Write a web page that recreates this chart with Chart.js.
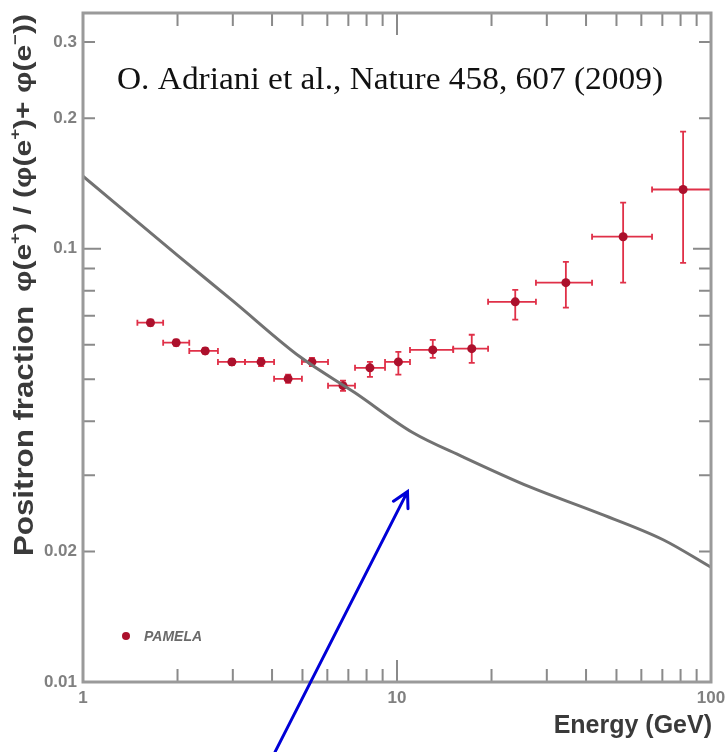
<!DOCTYPE html>
<html>
<head>
<meta charset="utf-8">
<script src="https://cdn.jsdelivr.net/npm/chart.js@4.4.0/dist/chart.umd.min.js"></script>
<style>
  html, body { margin: 0; padding: 0; background: #fff; }
</style>
</head>
<body>
<canvas id="positronChart" width="726" height="752"></canvas>
<script>
// ----- PAMELA positron fraction data -----
const energy   = [1.64, 1.98, 2.45, 2.98, 3.69, 4.50, 5.36, 6.73, 8.20, 10.1, 13.0, 17.3, 23.8, 34.5, 52.5, 81.5];
const fraction = [0.0675, 0.0607, 0.0581, 0.0548, 0.0548, 0.0501, 0.0548, 0.0483, 0.0531, 0.0548, 0.0584, 0.0588, 0.0754, 0.0835, 0.1066, 0.137];
// energy bins (horizontal error bars)
const binLow   = [1.49, 1.80, 2.18, 2.69, 3.28, 4.06, 4.98, 6.03, 7.35, 9.16, 11.0, 15.1, 19.5, 27.7, 41.8, 64.9];
const binHigh  = [1.80, 2.18, 2.69, 3.28, 4.06, 4.98, 6.03, 7.35, 9.16, 11.0, 15.1, 19.5, 27.7, 41.8, 64.9, 100];
// statistical errors (vertical error bars)
const fracLow  = [0.0664, 0.0597, 0.0572, 0.0539, 0.0536, 0.0490, 0.0536, 0.0470, 0.0506, 0.0512, 0.0560, 0.0545, 0.0686, 0.0731, 0.0835, 0.0928];
const fracHigh = [0.0686, 0.0617, 0.0590, 0.0557, 0.0560, 0.0512, 0.0560, 0.0496, 0.0548, 0.0578, 0.0616, 0.0633, 0.0804, 0.0933, 0.1277, 0.1863];

// secondary production curve
const modelEnergy   = [1, 2, 3, 4.91, 7.35, 11.25, 16.2, 26.5, 43.4, 70.4, 100];
const modelFraction = [0.147, 0.0965, 0.0758, 0.0563, 0.0465, 0.0376, 0.0331, 0.0282, 0.0246, 0.0213, 0.0184];

// axis labels
const xTickValues = [1, 10, 100];
const xTickLabels = ['1', '10', '100'];
const yTickValues = [0.01, 0.02, 0.1, 0.2, 0.3];
const yTickLabels = ['0.01', '0.02', '0.1', '0.2', '0.3'];

const citation = 'O. Adriani et al., Nature 458, 607 (2009)';
const legendLabel = 'PAMELA';

// arrow annotation (data coordinates)
const arrowFrom = { x: 4.09, y: 0.0069 };
const arrowTo   = { x: 10.8, y: 0.0275 };

const RED_BAR = 'rgb(224, 48, 72)';
const RED_DOT = 'rgb(172, 16, 44)';
const AXIS_GRAY = '#9a9a9a';
const SANS = '"Liberation Sans", Arial, sans-serif';

// 誤差棒の描画
const errorBarPlugin = {
    id: 'errorBars',
    beforeDatasetsDraw(chart) {
        const ctx = chart.ctx;
        const xs = chart.scales.x;
        const ys = chart.scales.y;
        const cap = 3;
        ctx.save();
        ctx.strokeStyle = RED_BAR;
        ctx.lineWidth = 1.8;
        energy.forEach((e, i) => {
            const px = xs.getPixelForValue(e);
            const py = ys.getPixelForValue(fraction[i]);
            const x0 = xs.getPixelForValue(binLow[i]);
            const x1 = xs.getPixelForValue(binHigh[i]);
            const y0 = ys.getPixelForValue(fracLow[i]);
            const y1 = ys.getPixelForValue(fracHigh[i]);
            ctx.beginPath();
            ctx.moveTo(x0, py); ctx.lineTo(x1, py);
            ctx.moveTo(x0, py - cap); ctx.lineTo(x0, py + cap);
            ctx.moveTo(x1, py - cap); ctx.lineTo(x1, py + cap);
            ctx.moveTo(px, y0); ctx.lineTo(px, y1);
            ctx.moveTo(px - cap, y0); ctx.lineTo(px + cap, y0);
            ctx.moveTo(px - cap, y1); ctx.lineTo(px + cap, y1);
            ctx.stroke();
        });
        ctx.restore();
    }
};

// 回転させたテキストを指定の長さに合わせて描く
function drawRotatedRuns(ctx, x, y, runs, size, supSize, length) {
    ctx.save();
    ctx.translate(x, y);
    ctx.rotate(-Math.PI / 2);
    let total = 0;
    runs.forEach(([t, sup]) => {
        ctx.font = 'bold ' + (sup ? supSize : size) + 'px ' + SANS;
        total += ctx.measureText(t).width;
    });
    ctx.scale(length / total, 1);
    ctx.textAlign = 'left';
    ctx.textBaseline = 'alphabetic';
    let cx = 0;
    runs.forEach(([t, sup]) => {
        ctx.font = 'bold ' + (sup ? supSize : size) + 'px ' + SANS;
        ctx.fillText(t, cx, sup ? -size * 0.45 : 0);
        cx += ctx.measureText(t).width;
    });
    ctx.restore();
}

// 枠・目盛り・ラベル・注釈の描画
const framePlugin = {
    id: 'frame',
    afterDraw(chart) {
        const ctx = chart.ctx;
        const xs = chart.scales.x;
        const ys = chart.scales.y;
        const area = chart.chartArea;

        ctx.save();

        // 内向きの目盛り
        ctx.strokeStyle = '#8a8a8a';
        ctx.lineWidth = 2;
        const xMinor = [];
        const yMinor = [];
        [1, 10].forEach(d => { for (let k = 2; k <= 9; k++) xMinor.push(k * d); });
        [0.01, 0.1].forEach(d => { for (let k = 2; k <= 9; k++) yMinor.push(k * d); });

        ctx.beginPath();
        xTickValues.concat(xMinor).forEach(v => {
            const len = xTickValues.includes(v) ? 22 : 13;
            const px = xs.getPixelForValue(v);
            ctx.moveTo(px, area.bottom); ctx.lineTo(px, area.bottom - len);
            ctx.moveTo(px, area.top); ctx.lineTo(px, area.top + len);
        });
        yMinor.concat([0.01, 0.1]).forEach(v => {
            if (v > ys.max) return;
            const len = (v === 0.01 || v === 0.1) ? 18 : 12;
            const py = ys.getPixelForValue(v);
            ctx.moveTo(area.left, py); ctx.lineTo(area.left + len, py);
            ctx.moveTo(area.right, py); ctx.lineTo(area.right - len, py);
        });
        ctx.stroke();

        // 枠線
        ctx.strokeStyle = AXIS_GRAY;
        ctx.lineWidth = 3;
        ctx.strokeRect(area.left, area.top, area.right - area.left, area.bottom - area.top);

        // 目盛りラベル
        ctx.fillStyle = '#808080';
        ctx.font = 'bold 17px ' + SANS;
        ctx.textBaseline = 'middle';
        ctx.textAlign = 'right';
        yTickValues.forEach((v, i) => {
            ctx.fillText(yTickLabels[i], area.left - 6, ys.getPixelForValue(v));
        });
        ctx.textAlign = 'center';
        ctx.textBaseline = 'top';
        xTickValues.forEach((v, i) => {
            ctx.fillText(xTickLabels[i], xs.getPixelForValue(v), area.bottom + 8);
        });

        // 軸タイトル
        ctx.fillStyle = '#3a3a3a';
        ctx.font = 'bold 25px ' + SANS;
        ctx.textAlign = 'right';
        ctx.textBaseline = 'alphabetic';
        ctx.fillText('Energy (GeV)', 712, 733);

        drawRotatedRuns(ctx, 33, 556, [['Positron fraction', false]], 28, 16, 250);
        // φ(e+) / (φ(e+)+ φ(e-))
        drawRotatedRuns(ctx, 31, 292, [
            ['φ(e', false], ['+', true], [') / (φ(e', false], ['+', true],
            [')+ φ(e', false], ['−', true], ['))', false]
        ], 24, 15, 278);

        // 凡例
        ctx.fillStyle = RED_DOT;
        ctx.beginPath();
        ctx.arc(126, 636, 4, 0, Math.PI * 2);
        ctx.fill();
        ctx.fillStyle = '#6a6a6a';
        ctx.font = 'italic bold 14px ' + SANS;
        ctx.textAlign = 'left';
        ctx.textBaseline = 'middle';
        ctx.fillText(legendLabel, 144, 637);

        // 出典
        ctx.save();
        ctx.fillStyle = '#111';
        ctx.font = '31px "Liberation Serif", "DejaVu Serif", serif';
        ctx.textBaseline = 'alphabetic';
        const w = ctx.measureText(citation).width;
        ctx.translate(117, 89);
        ctx.scale(546 / w, 1);
        ctx.fillText(citation, 0, 0);
        ctx.restore();

        // 矢印
        const ax0 = xs.getPixelForValue(arrowFrom.x), ay0 = ys.getPixelForValue(arrowFrom.y);
        const ax1 = xs.getPixelForValue(arrowTo.x),   ay1 = ys.getPixelForValue(arrowTo.y);
        const ang = Math.atan2(ay1 - ay0, ax1 - ax0);
        const head = 17;
        ctx.strokeStyle = 'rgb(0, 0, 215)';
        ctx.lineWidth = 3;
        ctx.lineCap = 'round';
        ctx.beginPath();
        ctx.moveTo(ax0, ay0); ctx.lineTo(ax1, ay1);
        ctx.moveTo(ax1 - head * Math.cos(ang - 0.5), ay1 - head * Math.sin(ang - 0.5));
        ctx.lineTo(ax1, ay1);
        ctx.lineTo(ax1 - head * Math.cos(ang + 0.5), ay1 - head * Math.sin(ang + 0.5));
        ctx.stroke();

        ctx.restore();
    }
};

new Chart(document.getElementById('positronChart'), {
    type: 'scatter',
    data: {
        datasets: [{
            type: 'line',
            label: 'secondary',
            data: modelEnergy.map((e, i) => ({ x: e, y: modelFraction[i] })),
            borderColor: '#727272',
            borderWidth: 3,
            pointRadius: 0,
            cubicInterpolationMode: 'monotone',
            fill: false
        }, {
            label: legendLabel,
            data: energy.map((e, i) => ({ x: e, y: fraction[i] })),
            backgroundColor: RED_DOT,
            borderWidth: 0,
            pointRadius: 4.5
        }]
    },
    options: {
        responsive: false,
        animation: false,
        devicePixelRatio: 1,
        layout: { padding: { left: 83, right: 15, top: 13, bottom: 70 } },
        plugins: {
            legend: { display: false },
            tooltip: { enabled: false }
        },
        scales: {
            x: { type: 'logarithmic', min: 1, max: 100, display: false },
            y: { type: 'logarithmic', min: 0.01, max: 0.35, display: false }
        }
    },
    plugins: [errorBarPlugin, framePlugin]
});
</script>
</body>
</html>
